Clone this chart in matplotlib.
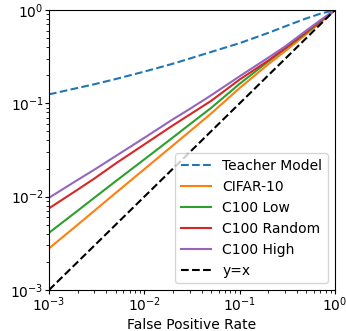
import matplotlib
matplotlib.use("Agg")
import matplotlib.pyplot as plt

fpr = [0.001, 0.002, 0.003, 0.005, 0.01, 0.02, 0.03, 0.05, 0.1, 0.2, 0.3, 0.5, 0.7, 1.0]

teacher = [0.1247, 0.1462, 0.1603, 0.182, 0.2188, 0.266, 0.302, 0.355, 0.4416, 0.569, 0.668, 0.813, 0.912, 1.0]
cifar10 = [0.00279, 0.00501, 0.00708, 0.01096, 0.0197, 0.0355, 0.0501, 0.0776, 0.146, 0.263, 0.363, 0.55, 0.733, 1.0]
c100_low = [0.0041, 0.00708, 0.00977, 0.01462, 0.0251, 0.0432, 0.0596, 0.0891, 0.162, 0.282, 0.385, 0.569, 0.75, 1.0]
c100_random = [0.0075, 0.0119, 0.01567, 0.02265, 0.0363, 0.0582, 0.0759, 0.106, 0.18, 0.288, 0.389, 0.582, 0.759, 1.0]
c100_high = [0.00973, 0.01514, 0.0195, 0.0272, 0.0427, 0.0676, 0.0871, 0.1216, 0.195, 0.309, 0.407, 0.603, 0.776, 1.0]

diag = [0.001, 1.0]

fig = plt.figure(figsize=(3.46, 3.31), dpi=100)
ax = fig.add_axes([49/346, 41/331, 286/346, 280/331])

ax.plot(fpr, teacher, '--', color='C0', label='Teacher Model')
ax.plot(fpr, cifar10, '-', color='C1', label='CIFAR-10')
ax.plot(fpr, c100_low, '-', color='C2', label='C100 Low')
ax.plot(fpr, c100_random, '-', color='C3', label='C100 Random')
ax.plot(fpr, c100_high, '-', color='C4', label='C100 High')
ax.plot(diag, diag, '--', color='black', label='y=x')

ax.set_xscale('log')
ax.set_yscale('log')
ax.set_xlim(1e-3, 1)
ax.set_ylim(1e-3, 1)
ax.tick_params(which='major', length=3, pad=0.8)
ax.tick_params(which='minor', length=2)
ax.set_xlabel('False Positive Rate', labelpad=3)
ax.legend(loc='lower right', handlelength=2.2)

fig.savefig('out.png', dpi=100)
